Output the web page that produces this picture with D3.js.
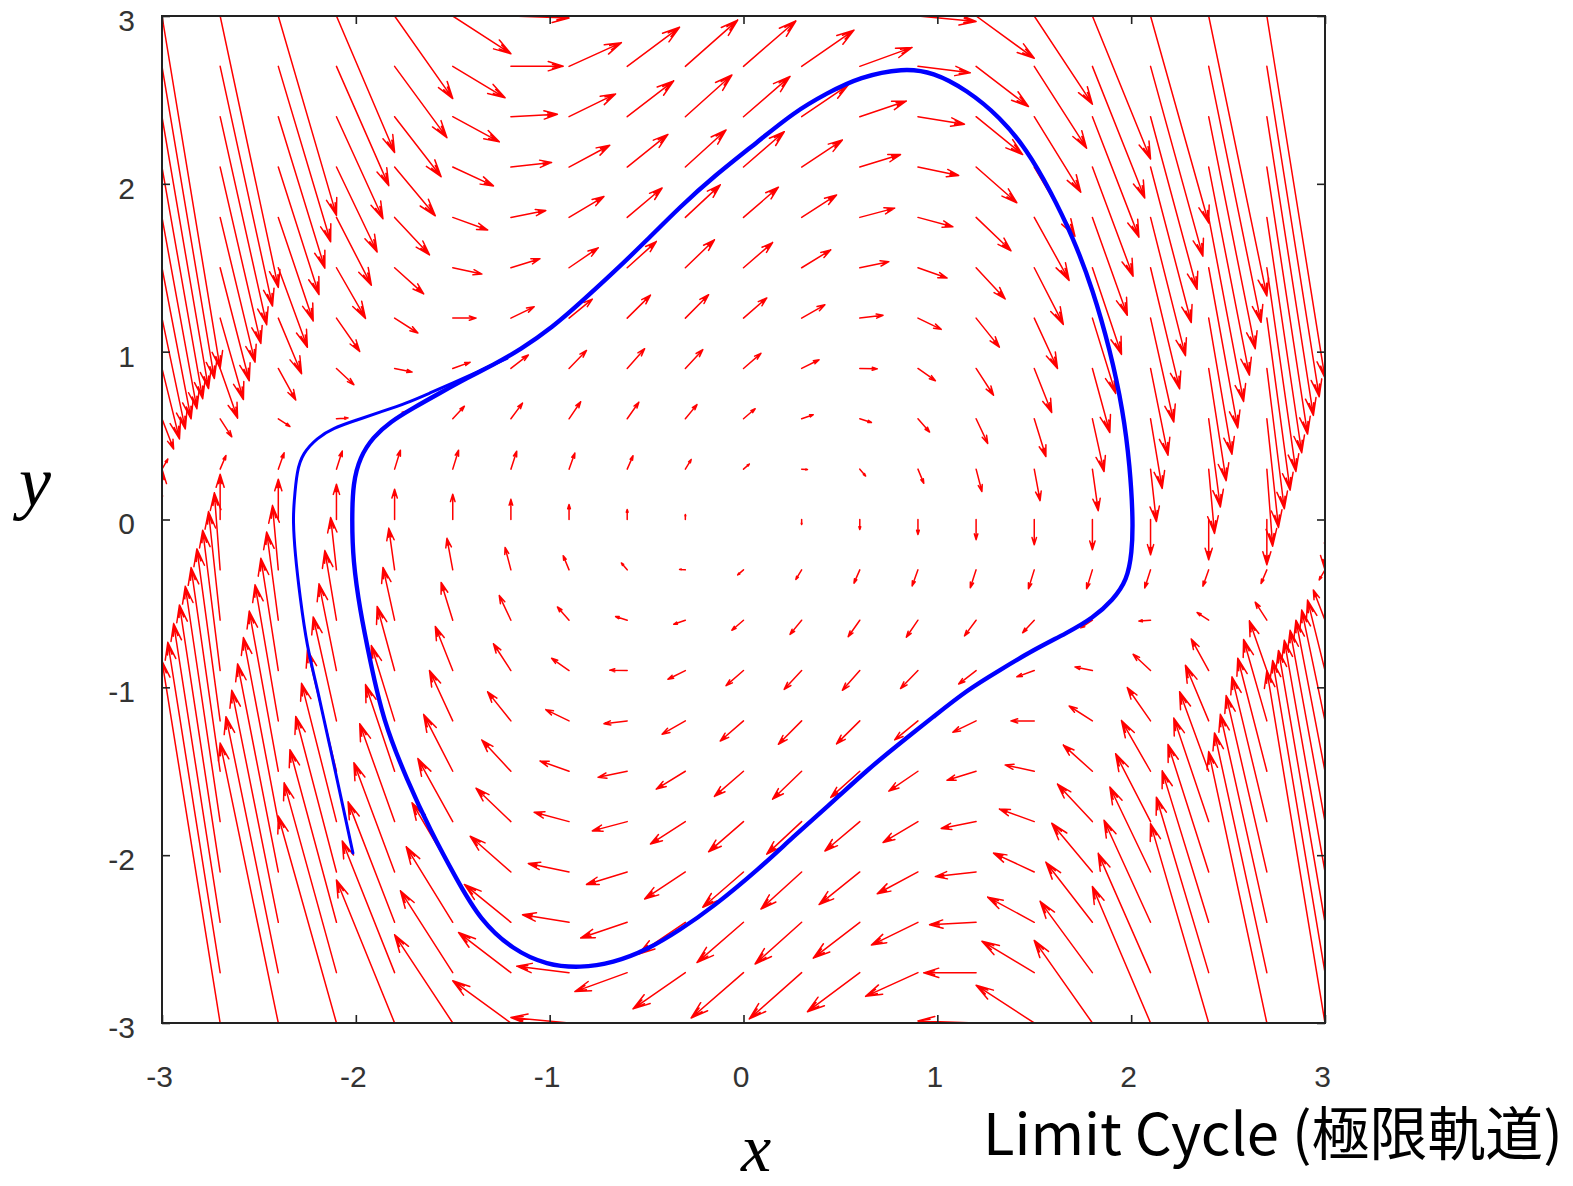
<!DOCTYPE html>
<html>
<head>
<meta charset="utf-8">
<script src="https://cdn.jsdelivr.net/npm/d3@7"></script>
<style>
  html, body { margin: 0; padding: 0; background: #fff; }
  svg { display: block; }
</style>
</head>
<body>
<svg id="chart" width="1573" height="1186"></svg>
<script>
// ---------------- data ----------------
// grid of arrow tails (both axes)
const gridX = [-3, -2.7, -2.4, -2.1, -1.8, -1.5, -1.2, -0.9, -0.6, -0.3, 0, 0.3, 0.6, 0.9, 1.2, 1.5, 1.8, 2.1, 2.4, 2.7, 3];
const gridY = [-3, -2.7, -2.4, -2.1, -1.8, -1.5, -1.2, -0.9, -0.6, -0.3, 0, 0.3, 0.6, 0.9, 1.2, 1.5, 1.8, 2.1, 2.4, 2.7, 3];
// Van der Pol field x' = y, y' = MU(1-x^2)y - x ; arrows drawn at VEC_SCALE of the derivative
const MU = 1;
const VEC_SCALE = 0.1;

// transient trajectory starting near (-2,-2)
const transientX = [-2.015, -2.066, -2.133, -2.200, -2.252, -2.288, -2.314, -2.324, -2.319, -2.304, -2.273, -2.200, -2.118, -1.994, -1.875, -1.736, -1.617, -1.499, -1.36, -1.22];
const transientY = [-1.987, -1.713, -1.356, -0.998, -0.760, -0.462, -0.200, -0.003, 0.098, 0.295, 0.396, 0.486, 0.545, 0.593, 0.640, 0.694, 0.754, 0.813, 0.885, 0.96];

// limit cycle (closed), clockwise
const cycleX = [-2.020, -2.015, -1.979, -1.911, -1.824, -1.705, -1.566, -1.427, -1.292, -1.153, -0.983, -0.843, -0.673, -0.498, -0.328, -0.157, 0.085, 0.255, 0.431, 0.601, 0.823, 0.978, 1.153, 1.323, 1.463, 1.581, 1.700, 1.803, 1.891, 1.958, 1.994, 2.010, 2.004, 1.979, 1.906, 1.803, 1.669, 1.494, 1.323, 1.153, 0.978, 0.808, 0.637, 0.431, 0.255, 0.085, -0.157, -0.328, -0.498, -0.673, -0.843, -1.014, -1.189, -1.359, -1.478, -1.617, -1.736, -1.860, -1.927, -1.979, -2.015];
const cycleY = [-0.003, 0.217, 0.372, 0.491, 0.581, 0.664, 0.754, 0.843, 0.921, 1.010, 1.147, 1.290, 1.469, 1.665, 1.862, 2.041, 2.261, 2.422, 2.541, 2.637, 2.690, 2.666, 2.559, 2.398, 2.202, 1.963, 1.683, 1.367, 1.010, 0.652, 0.313, -0.003, -0.200, -0.361, -0.480, -0.587, -0.676, -0.778, -0.897, -1.016, -1.177, -1.332, -1.493, -1.713, -1.892, -2.077, -2.309, -2.446, -2.565, -2.643, -2.672, -2.655, -2.565, -2.386, -2.148, -1.850, -1.552, -1.195, -0.837, -0.539, -0.241];

const xTicks = [-3, -2, -1, 0, 1, 2, 3];
const yTicks = [-3, -2, -1, 0, 1, 2, 3];
const xLabel = "x";
const yLabel = "y";
const caption = "Limit Cycle (極限軌道)";

// ---------------- layout ----------------
const svg = d3.select("#chart");
const L = 162, R = 1325, T = 16, B = 1023;
const sx = d3.scaleLinear().domain([-3, 3]).range([L, R]);
const sy = d3.scaleLinear().domain([-3, 3]).range([B, T]);

svg.append("defs").append("clipPath").attr("id", "plotclip")
  .append("rect").attr("x", L).attr("y", T).attr("width", R - L).attr("height", B - T);

// ---------------- vector field ----------------
const field = [];
gridX.forEach(gx => gridY.forEach(gy => {
  const dx = VEC_SCALE * gy;
  const dy = VEC_SCALE * (MU * (1 - gx * gx) * gy - gx);
  field.push({ x: gx, y: gy, dx, dy });
}));

const arrowG = svg.append("g").attr("clip-path", "url(#plotclip)")
  .attr("fill", "none").attr("stroke", "#ff0000").attr("stroke-width", 1.5)
  .attr("stroke-linecap", "round").attr("stroke-linejoin", "round");

arrowG.selectAll("path").data(field).join("path")
  .attr("d", d => {
    const x0 = sx(d.x), y0 = sy(d.y), x1 = sx(d.x + d.dx), y1 = sy(d.y + d.dy);
    const len = Math.hypot(x1 - x0, y1 - y0);
    if (len < 0.5) return "";
    const th = Math.atan2(y1 - y0, x1 - x0);
    const h = Math.min(18, 0.3 * len);
    const phi = 0.30;
    const h2 = h * 0.7;
    const ax = x1 - h * Math.cos(th - phi), ay = y1 - h * Math.sin(th - phi);
    const bx = x1 - h * Math.cos(th + phi), by = y1 - h * Math.sin(th + phi);
    const cx = x1 - h2 * Math.cos(th - phi * 0.6), cy = y1 - h2 * Math.sin(th - phi * 0.6);
    const ex = x1 - h2 * Math.cos(th + phi * 0.6), ey = y1 - h2 * Math.sin(th + phi * 0.6);
    return `M${x0},${y0}L${x1},${y1}M${ax},${ay}L${x1},${y1}L${bx},${by}` +
      (len > 30 ? `M${cx},${cy}L${x1},${y1}L${ex},${ey}` : "");
  });

// ---------------- trajectory ----------------
const trajG = svg.append("g").attr("clip-path", "url(#plotclip)");
const transient = transientX.map((x, i) => [x, transientY[i]]);
const cycle = cycleX.map((x, i) => [x, cycleY[i]]);

trajG.append("path")
  .attr("d", d3.line().x(d => sx(d[0])).y(d => sy(d[1])).curve(d3.curveBasis)(transient))
  .attr("fill", "none").attr("stroke", "#0000ff").attr("stroke-width", 3)
  .attr("stroke-linecap", "round");
trajG.append("path")
  .attr("d", d3.line().x(d => sx(d[0])).y(d => sy(d[1])).curve(d3.curveBasisClosed)(cycle))
  .attr("fill", "none").attr("stroke", "#0000ff").attr("stroke-width", 4.4);

// ---------------- axes ----------------
const tickFont = "'Liberation Sans', Arial, sans-serif";
const axB = svg.append("g").attr("transform", `translate(0,${B})`)
  .call(d3.axisBottom(sx).tickValues(xTicks).tickSize(-8).tickPadding(43).tickFormat(d => String(d)));
const axT = svg.append("g").attr("transform", `translate(0,${T})`)
  .call(d3.axisTop(sx).tickValues(xTicks).tickSize(-8).tickFormat(""));
const axLft = svg.append("g").attr("transform", `translate(${L},0)`)
  .call(d3.axisLeft(sy).tickValues(yTicks).tickSize(-8).tickPadding(27).tickFormat(d => String(d)));
const axRt = svg.append("g").attr("transform", `translate(${R},0)`)
  .call(d3.axisRight(sy).tickValues(yTicks).tickSize(-8).tickFormat(""));

[axB, axT, axLft, axRt].forEach(a => {
  a.select(".domain").remove();
  a.selectAll(".tick line").attr("stroke", "#222").attr("stroke-width", 1.6);
  a.selectAll("text").attr("font-family", tickFont).attr("font-size", 30).attr("fill", "#333");
});
axB.selectAll("text").attr("dx", "-0.1em");
axLft.selectAll("text").attr("dy", "0.48em");

// border
svg.append("rect").attr("x", L).attr("y", T).attr("width", R - L).attr("height", B - T)
  .attr("fill", "none").attr("stroke", "#222").attr("stroke-width", 2);

// axis titles
svg.append("text").attr("x", 35).attr("y", 506).attr("text-anchor", "middle")
  .attr("font-family", "'Liberation Serif', 'Times New Roman', serif").attr("font-style", "italic")
  .attr("font-size", 72).attr("fill", "#000").text(yLabel);
svg.append("text").attr("x", 756).attr("y", 1171).attr("text-anchor", "middle")
  .attr("font-family", "'Liberation Serif', 'Times New Roman', serif").attr("font-style", "italic")
  .attr("font-size", 68).attr("fill", "#000").text(xLabel);

// caption
const cap = svg.append("text").attr("x", 983).attr("y", 1155)
  .attr("font-family", "'Noto Sans CJK JP', 'Noto Sans', sans-serif")
  .attr("font-size", 60).attr("fill", "#000").text(caption);
const w = cap.node().getComputedTextLength();
if (w > 0) cap.attr("font-size", 60 * 580 / w);
</script>
</body>
</html>
